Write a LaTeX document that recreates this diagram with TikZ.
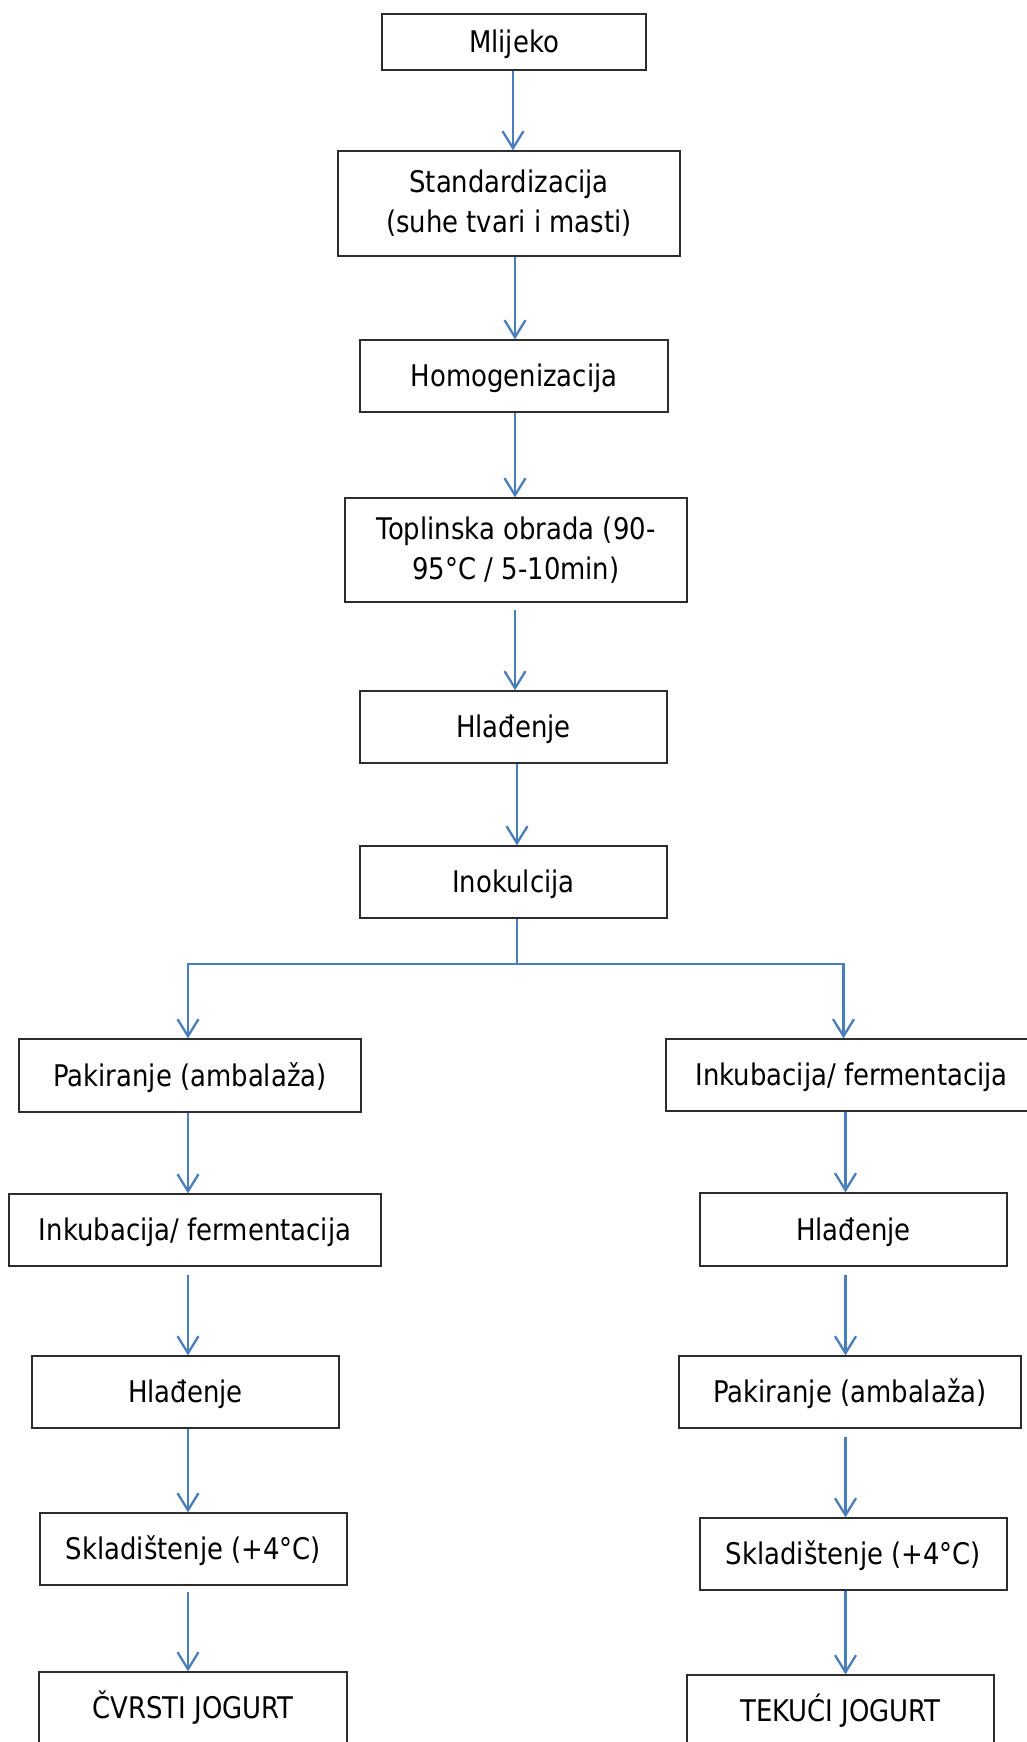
\documentclass[tikz,border=0pt]{standalone}
\usepackage{fontspec}
\setmainfont{DejaVu Sans}[FakeStretch=0.87]
\usetikzlibrary{arrows.meta}
\definecolor{arrowblue}{RGB}{74,126,187}
\definecolor{boxline}{RGB}{45,45,45}
\tikzset{
  stepbox/.style={draw=boxline, line width=1.3pt, inner sep=0pt, align=center,
    font=\fontsize{29.8}{40}\selectfont},
  onebox/.style={stepbox, text height=27.85pt, text depth=6.15pt},
  conn/.style={draw=arrowblue, line width=2.3pt,
    -{Straight Barb[length=17pt,width=21pt]}},
  plainconn/.style={draw=arrowblue, line width=2.3pt}
}
\begin{document}
\begin{tikzpicture}[x=1pt,y=-1pt]
\useasboundingbox (0,0) rectangle (1027,1742);
\fill[white] (0,0) rectangle (1027,1742);
\clip (0,0) rectangle (1027,1742);

% centre column
\node[onebox, minimum width=264, minimum height=56] (n1) at (514,42) {Mlijeko};
\node[stepbox, minimum width=342, minimum height=105] (n2) at (509,203.5) {Standardizacija\\(suhe tvari i masti)};
\node[onebox, minimum width=308, minimum height=72] (n3) at (514,376) {Homogenizacija};
\node[stepbox, minimum width=342, minimum height=104] (n4) at (516,550) {Toplinska obrada (90-\\95°C / 5-10min)};
\node[onebox, minimum width=307, minimum height=72] (n5) at (513.5,727) {Hlađenje};
\node[onebox, minimum width=307, minimum height=72] (n6) at (513.5,882) {Inokulcija};

% left column
\node[onebox, minimum width=342, minimum height=73] (L1) at (190,1075.5) {Pakiranje (ambalaža)};
\node[onebox, minimum width=372, minimum height=72] (L2) at (195,1230) {Inkubacija/ fermentacija};
\node[onebox, minimum width=307, minimum height=72] (L3) at (185.5,1392) {Hlađenje};
\node[onebox, minimum width=307, minimum height=72] (L4) at (193.5,1549) {Skladištenje (+4°C)};
\node[onebox, minimum width=308, minimum height=72] (L5) at (193,1708) {ČVRSTI JOGURT};

% right column
\node[onebox, minimum width=371, minimum height=72] (R1) at (851.5,1075) {Inkubacija/ fermentacija};
\node[onebox, minimum width=307, minimum height=73] (R2) at (853.5,1229.5) {Hlađenje};
\node[onebox, minimum width=342, minimum height=72] (R3) at (850,1392) {Pakiranje (ambalaža)};
\node[onebox, minimum width=307, minimum height=72] (R4) at (853.5,1554) {Skladištenje (+4°C)};
\node[onebox, minimum width=307, minimum height=72] (R5) at (840.5,1711) {TEKUĆI JOGURT};

% column x references
\coordinate (c1) at (513,0);
\coordinate (c2) at (515,0);
\coordinate (c3) at (517,0);
\coordinate (cl) at (188,0);
\coordinate (cr) at (845.5,0);
\coordinate (bM) at (517,964);
\coordinate (bL) at (188,964);
\coordinate (bR) at (843.5,964);

% centre arrows
\draw[conn] (n1.south -| c1) -- (n2.north -| c1);
\draw[conn] (n2.south -| c2) -- (n3.north -| c2);
\draw[conn] (n3.south -| c2) -- (n4.north -| c2);
\draw[conn, shorten <=7pt] (n4.south -| c2) -- (n5.north -| c2);
\draw[conn] (n5.south -| c3) -- (n6.north -| c3);

% branch
\draw[plainconn] (n6.south -| bM) -- (bM);
\draw[conn] (bM) -- (bL) -- (L1.north -| bL);
\draw[conn] (bM) -- (bR) -- (R1.north -| bR);

% left arrows
\draw[conn] (L1.south -| cl) -- (L2.north -| cl);
\draw[conn, shorten <=8pt] (L2.south -| cl) -- (L3.north -| cl);
\draw[conn] (L3.south -| cl) -- (L4.north -| cl);
\draw[conn, shorten <=6pt] (L4.south -| cl) -- (L5.north -| cl);

% right arrows
\draw[conn] (R1.south -| cr) -- (R2.north -| cr);
\draw[conn, shorten <=8pt] (R2.south -| cr) -- (R3.north -| cr);
\draw[conn, shorten <=8pt] (R3.south -| cr) -- (R4.north -| cr);
\draw[conn] (R4.south -| cr) -- (R5.north -| cr);
\end{tikzpicture}
\end{document}
